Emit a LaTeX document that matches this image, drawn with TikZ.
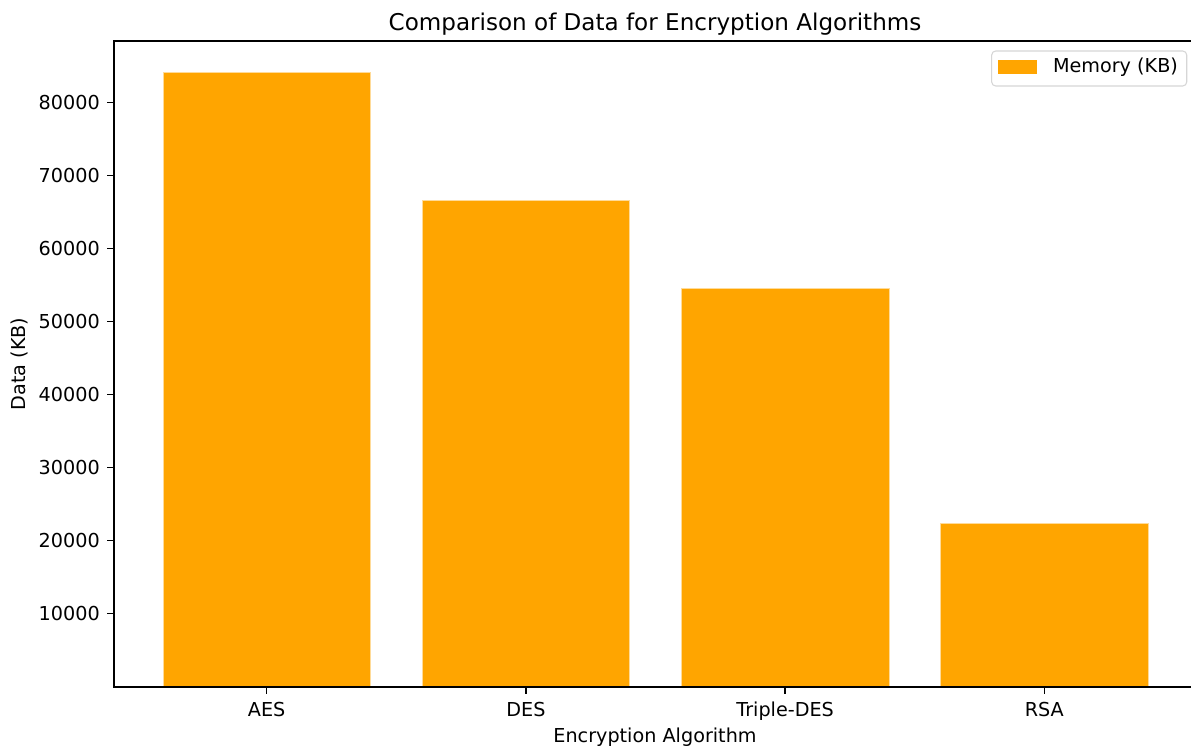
\documentclass[tikz,border=0pt]{standalone}
\usepackage{fontspec}
\setmainfont{DejaVu Sans}
\definecolor{barorange}{HTML}{FFA500}
\definecolor{legendedge}{HTML}{D6D6D6}
\begin{document}
\begin{tikzpicture}[x=0.75pt,y=-0.75pt,
  every node/.style={inner sep=0pt, outer sep=0pt},
  lab/.style={font=\fontsize{14.4}{17}\selectfont, text=black},
  titlelab/.style={font=\fontsize{17.3}{20}\selectfont, text=black},
  bar/.style={fill=barorange, draw=white!60!barorange, line width=0.3pt},
  spine/.style={draw=black, line width=1.1pt},
  tickmark/.style={draw=black, line width=1.1pt}
]
\useasboundingbox (0,0) rectangle (1191,753);
\fill[white] (0,0) rectangle (1191,753);

% bars
\foreach \i/\top/\name in {0/71.7/AES, 1/200.3/DES, 2/288.3/Triple-DES, 3/523.3/RSA}{
  \pgfmathsetmacro{\cx}{266.7+259.2*\i}
  \path[bar] ({\cx-103.7},686.8) rectangle ({\cx+103.7},\top);
  \draw[tickmark] (\cx,686.8) -- (\cx,693.5);
  \node[lab, anchor=base] (xt\i) at (\cx,716) {\name};
}

% y ticks
\foreach \v in {1,...,8}{
  \pgfmathsetmacro{\yy}{686.8-73.06*\v}
  \draw[tickmark] (107.1,\yy) -- (113.8,\yy);
  \node[lab, anchor=east] (yt\v) at (99.8,\yy) {\v0000};
}

% spines
\draw[spine, line cap=rect] (1191,41) -- (113.8,41) -- (113.8,686.8) -- (1191,686.8);

% labels
\node[titlelab, anchor=base] (title) at (655,30) {Comparison of Data for Encryption Algorithms};
\node[lab, anchor=base] (xlabel) at (655,742) {Encryption Algorithm};
\node[lab, anchor=base, rotate=90] (ylabel) at (25,364) {Data (KB)};

% legend
\draw[draw=legendedge, fill=white, line width=0.8pt, rounded corners=3pt] (991.7,51) rectangle (1186.7,86);
\fill[barorange] (997.7,60) rectangle (1036.7,74);
\node[lab, anchor=base west] (legtext) at (1053,72.5) {Memory (KB)};
\end{tikzpicture}
\end{document}
